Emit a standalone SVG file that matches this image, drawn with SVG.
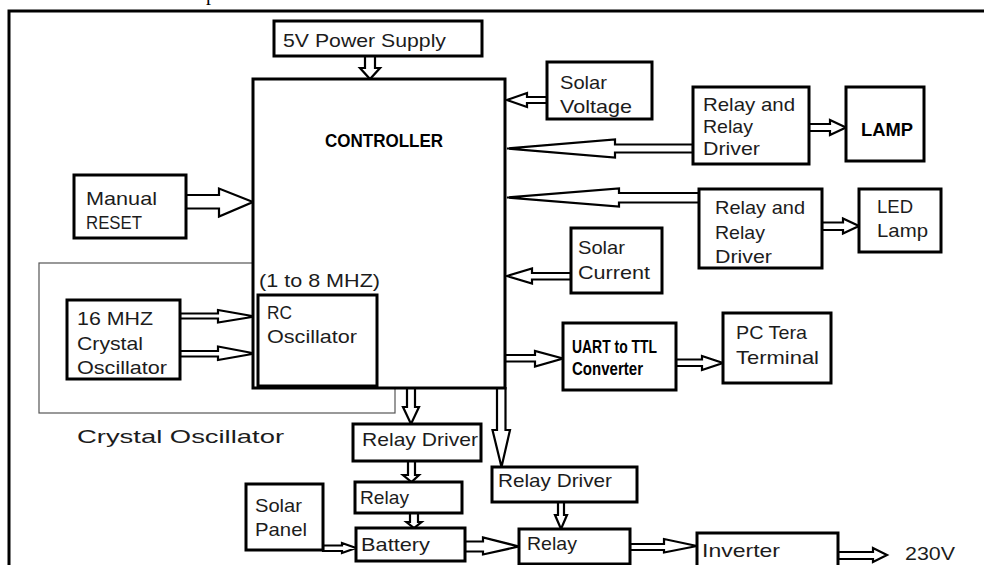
<svg xmlns="http://www.w3.org/2000/svg" width="984" height="565" viewBox="0 0 984 565">
<style>
.box{fill:#fff;stroke:#000;stroke-width:3}
.grp{fill:none;stroke:#555;stroke-width:1.2}
.arr{fill:#fff;stroke:#000;stroke-width:2.2;stroke-linejoin:miter}
.t{font-family:"Liberation Sans",Arial,sans-serif;font-size:19px;fill:#1c1c1c}
.b{font-weight:bold;fill:#000}
</style>
<rect width="984" height="565" fill="#fff"/>
<text x="206" y="0" font-family="Liberation Serif,serif" font-size="20" fill="#000">p</text>
<path d="M9,565 V11 H984" fill="none" stroke="#000" stroke-width="3"/>

<g id="crystal-group">
<rect class="grp" x="39" y="263" width="356" height="150"/>
<text class="t" x="77" y="443" font-size="23" textLength="207" lengthAdjust="spacingAndGlyphs">Crystal Oscillator</text>
</g>

<g id="connectors">
<polygon class="arr" points="365,56 375,56 375,68 380,68 370,79 360,68 365,68"/>
<polygon class="arr" points="547,97 527,97 527,93 507,100 527,107 527,103 547,103"/>
<polygon class="arr" points="693,144.5 615,144.5 615,139.5 507,148.5 615,157.5 615,152.5 693,152.5"/>
<polygon class="arr" points="699,193 619,193 619,188.5 507,197.5 619,206.5 619,202.5 699,202.5"/>
<polygon class="arr" points="571,273 532,273 532,268.5 507,276 532,283.5 532,279.5 571,279.5"/>
<polygon class="arr" points="505,355 535,355 535,351 563,358.5 535,366.5 535,361.5 505,361.5"/>
<polygon class="arr" points="676,359.5 702,359.5 702,356 723,363 702,370 702,366 676,366"/>
<polygon class="arr" points="809,124 830,124 830,120 846,127.5 830,135 830,131 809,131"/>
<polygon class="arr" points="822,222.5 843,222.5 843,218.5 859,226 843,233.5 843,230 822,230"/>
<polygon class="arr" points="186,195 219,195 219,188.5 253,202 219,216.5 219,208.5 186,208.5"/>
<polygon class="arr" points="180,313.5 218,313.5 218,310 255,316.5 218,322.5 218,318.5 180,318.5"/>
<polygon class="arr" points="180,351 218,351 218,346.5 255,353.5 218,360 218,356.5 180,356.5"/>
<polygon class="arr" points="407,388 407,407 403,407 411,424 419,407 415,407 415,388"/>
<polygon class="arr" points="497,388 497,430 492.5,430 501.5,467 510,430 505.5,430 505.5,388"/>
<polygon class="arr" points="408,461 408,475 403,475 411.5,482 419,475 415,475 415,461"/>
<polygon class="arr" points="410,513 410,522 406.5,522 414,528 421.5,522 418,522 418,513"/>
<polygon class="arr" points="323,545.5 342,545.5 342,543 356,548 342,553 342,551 323,551"/>
<polygon class="arr" points="465,541.5 483,541.5 483,537.5 519,546.5 483,554.5 483,551.5 465,551.5"/>
<polygon class="arr" points="558,502 558,515 555,515 561,529 567,515 564,515 564,502"/>
<polygon class="arr" points="630,544 664,544 664,539 697,546 664,552.5 664,550 630,550"/>
<polygon class="arr" points="838,552 873,552 873,548 887,555 873,562 873,559 838,559"/>
</g>

<g id="power-supply">
<rect class="box" x="274" y="21" width="208" height="35"/>
<text class="t" x="283" y="47" font-size="21" textLength="163" lengthAdjust="spacingAndGlyphs">5V Power Supply</text>
</g>

<g id="controller">
<rect class="box" x="253" y="79" width="252" height="309" stroke-width="3.5" fill="none"/>
<text class="t b" x="325" y="147" textLength="118" lengthAdjust="spacingAndGlyphs">CONTROLLER</text>
</g>

<g id="solar-voltage">
<rect class="box" x="547" y="62" width="105" height="57"/>
<text class="t" x="560" y="89" textLength="47" lengthAdjust="spacingAndGlyphs">Solar</text>
<text class="t" x="560" y="113" textLength="72" lengthAdjust="spacingAndGlyphs">Voltage</text>
</g>

<g id="relay-driver-1">
<rect class="box" x="693" y="87" width="116" height="77"/>
<text class="t" x="703" y="111" textLength="92" lengthAdjust="spacingAndGlyphs">Relay and</text>
<text class="t" x="703" y="133" textLength="50" lengthAdjust="spacingAndGlyphs">Relay</text>
<text class="t" x="703" y="155" textLength="57" lengthAdjust="spacingAndGlyphs">Driver</text>
</g>

<g id="lamp">
<rect class="box" x="846" y="87" width="78" height="74"/>
<text class="t b" x="861" y="136" font-size="20" textLength="52" lengthAdjust="spacingAndGlyphs">LAMP</text>
</g>

<g id="relay-driver-2">
<rect class="box" x="699" y="189" width="123" height="79"/>
<text class="t" x="715" y="214" textLength="90" lengthAdjust="spacingAndGlyphs">Relay and</text>
<text class="t" x="715" y="239" textLength="50" lengthAdjust="spacingAndGlyphs">Relay</text>
<text class="t" x="715" y="263" textLength="57" lengthAdjust="spacingAndGlyphs">Driver</text>
</g>

<g id="led-lamp">
<rect class="box" x="859" y="189" width="82" height="63"/>
<text class="t" x="877" y="213" textLength="36" lengthAdjust="spacingAndGlyphs">LED</text>
<text class="t" x="877" y="237" textLength="51" lengthAdjust="spacingAndGlyphs">Lamp</text>
</g>

<g id="solar-current">
<rect class="box" x="571" y="228" width="91" height="65"/>
<text class="t" x="578" y="254" textLength="47" lengthAdjust="spacingAndGlyphs">Solar</text>
<text class="t" x="578" y="279" textLength="72" lengthAdjust="spacingAndGlyphs">Current</text>
</g>

<g id="uart">
<rect class="box" x="563" y="323" width="113" height="67"/>
<text class="t b" x="572" y="353" font-size="16" textLength="85" lengthAdjust="spacingAndGlyphs">UART to TTL</text>
<text class="t b" x="572" y="375" font-size="16" textLength="71" lengthAdjust="spacingAndGlyphs">Converter</text>
</g>

<g id="pc-terminal">
<rect class="box" x="723" y="313" width="108" height="70"/>
<text class="t" x="736" y="339" textLength="71" lengthAdjust="spacingAndGlyphs">PC Tera</text>
<text class="t" x="736" y="364" textLength="83" lengthAdjust="spacingAndGlyphs">Terminal</text>
</g>

<g id="manual-reset">
<rect class="box" x="74" y="175" width="112" height="63"/>
<text class="t" x="86" y="205" textLength="71" lengthAdjust="spacingAndGlyphs">Manual</text>
<text class="t" x="86" y="229" textLength="56" lengthAdjust="spacingAndGlyphs">RESET</text>
</g>

<g id="rc-oscillator">
<text class="t" x="259" y="287" font-size="21" textLength="121" lengthAdjust="spacingAndGlyphs">(1 to 8 MHZ)</text>
<rect class="box" x="258" y="295" width="119" height="91"/>
<text class="t" x="267" y="319" textLength="25" lengthAdjust="spacingAndGlyphs">RC</text>
<text class="t" x="267" y="343" textLength="90" lengthAdjust="spacingAndGlyphs">Oscillator</text>
</g>

<g id="crystal-16mhz">
<rect class="box" x="67" y="300" width="113" height="79"/>
<text class="t" x="77" y="325" textLength="76" lengthAdjust="spacingAndGlyphs">16 MHZ</text>
<text class="t" x="77" y="350" textLength="66" lengthAdjust="spacingAndGlyphs">Crystal</text>
<text class="t" x="77" y="374" textLength="90" lengthAdjust="spacingAndGlyphs">Oscillator</text>
</g>

<g id="relay-driver-left">
<rect class="box" x="353" y="424" width="128" height="37"/>
<text class="t" x="362" y="446" textLength="116" lengthAdjust="spacingAndGlyphs">Relay Driver</text>
</g>

<g id="relay-left">
<rect class="box" x="355" y="482" width="107" height="31"/>
<text class="t" x="360" y="504" textLength="49" lengthAdjust="spacingAndGlyphs">Relay</text>
</g>

<g id="battery">
<rect class="box" x="356" y="528" width="109" height="33"/>
<text class="t" x="361" y="551" textLength="69" lengthAdjust="spacingAndGlyphs">Battery</text>
</g>

<g id="solar-panel">
<rect class="box" x="246" y="484" width="77" height="66"/>
<text class="t" x="255" y="512" textLength="47" lengthAdjust="spacingAndGlyphs">Solar</text>
<text class="t" x="255" y="536" textLength="52" lengthAdjust="spacingAndGlyphs">Panel</text>
</g>

<g id="relay-driver-right">
<rect class="box" x="492" y="467" width="145" height="35"/>
<text class="t" x="498" y="487" textLength="114" lengthAdjust="spacingAndGlyphs">Relay Driver</text>
</g>

<g id="relay-right">
<rect class="box" x="519" y="529" width="111" height="35"/>
<text class="t" x="527" y="550" textLength="50" lengthAdjust="spacingAndGlyphs">Relay</text>
</g>

<g id="inverter">
<rect class="box" x="697" y="533" width="141" height="40"/>
<text class="t" x="702" y="557" textLength="78" lengthAdjust="spacingAndGlyphs">Inverter</text>
</g>

<g id="output-230v">
<text class="t" x="905" y="560" textLength="50" lengthAdjust="spacingAndGlyphs">230V</text>
</g>
</svg>
